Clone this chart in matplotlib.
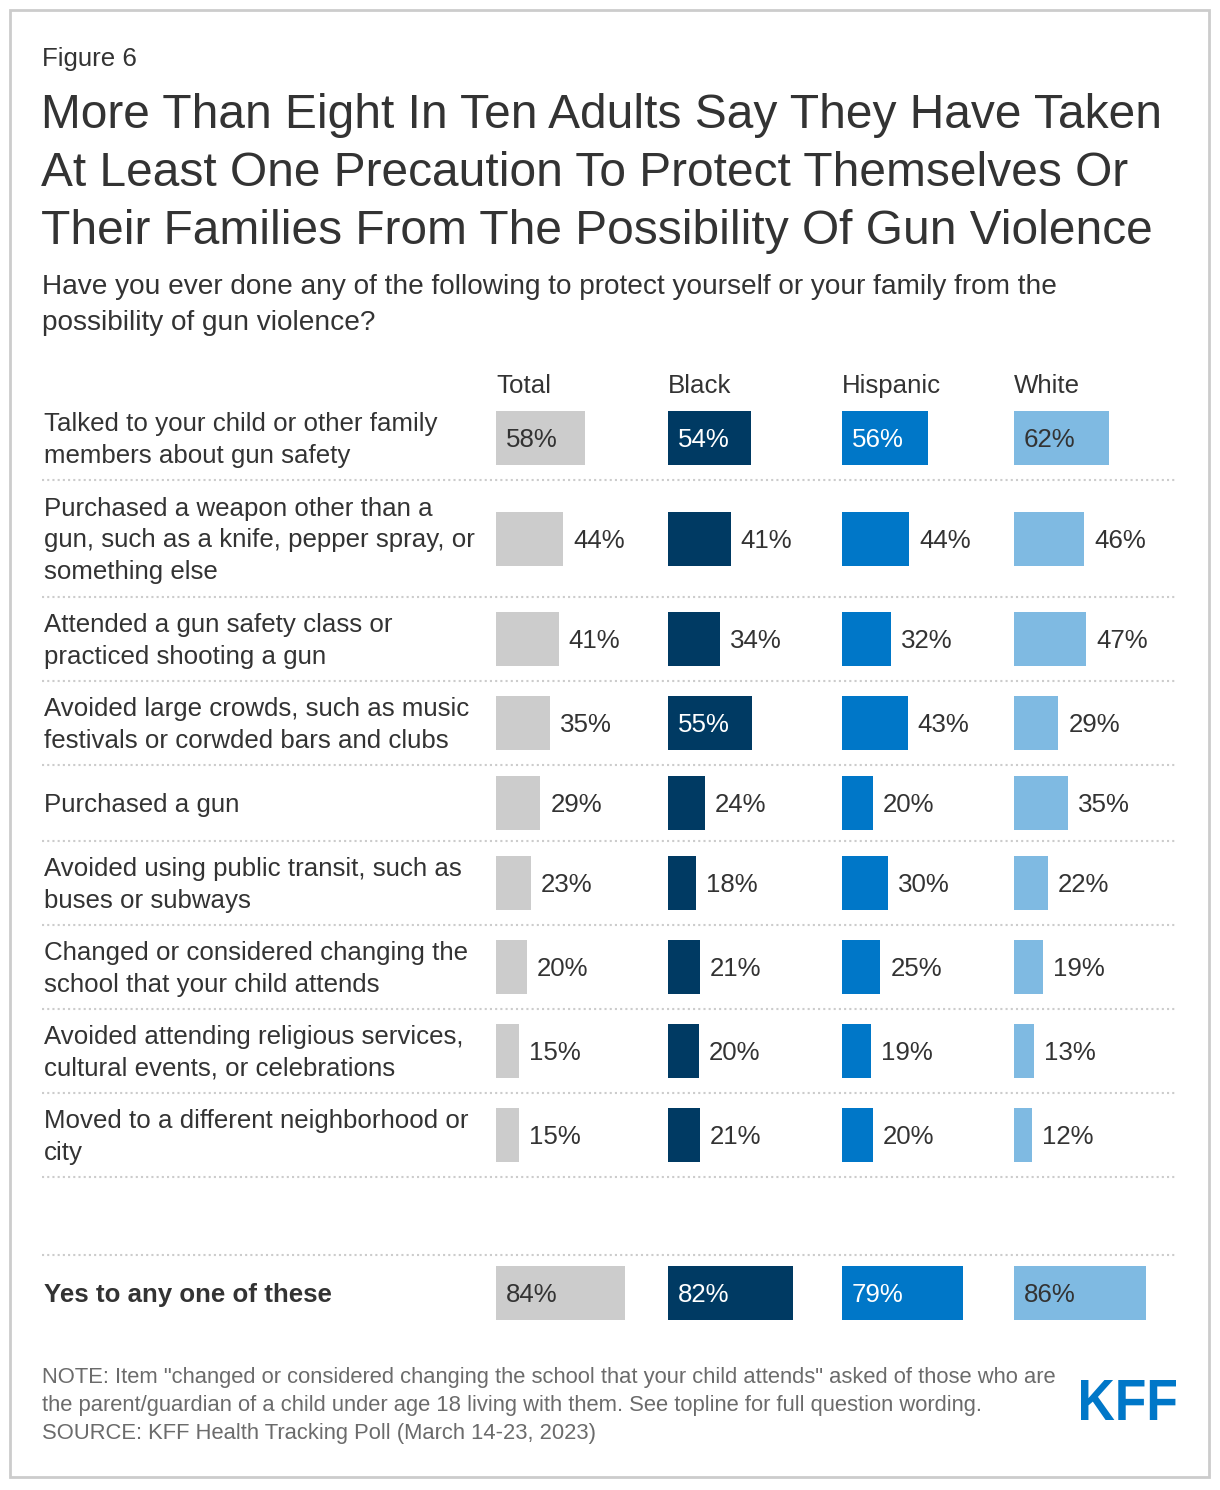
import matplotlib
matplotlib.use("Agg")
import matplotlib.pyplot as plt
from matplotlib.patches import Rectangle, PathPatch
from matplotlib.textpath import TextPath
from matplotlib.font_manager import FontProperties
from matplotlib.transforms import Affine2D

plt.rcParams['font.family'] = ['Liberation Sans', 'DejaVu Sans']

# data
groups = ["Total", "Black", "Hispanic", "White"]
colors = ["#cccccc", "#003a63", "#0077c8", "#7fbae2"]
text_in_colors = ["#333333", "#ffffff", "#ffffff", "#333333"]

items = [
    "Talked to your child or other family\nmembers about gun safety",
    "Purchased a weapon other than a\ngun, such as a knife, pepper spray, or\nsomething else",
    "Attended a gun safety class or\npracticed shooting a gun",
    "Avoided large crowds, such as music\nfestivals or corwded bars and clubs",
    "Purchased a gun",
    "Avoided using public transit, such as\nbuses or subways",
    "Changed or considered changing the\nschool that your child attends",
    "Avoided attending religious services,\ncultural events, or celebrations",
    "Moved to a different neighborhood or\ncity",
]
total = [58, 44, 41, 35, 29, 23, 20, 15, 15]
black = [54, 41, 34, 55, 24, 18, 21, 20, 21]
hispanic = [56, 44, 32, 43, 20, 30, 25, 19, 20]
white = [62, 46, 47, 29, 35, 22, 19, 13, 12]

any_label = "Yes to any one of these"
any_values = [84, 82, 79, 86]

title_lines = [
    "More Than Eight In Ten Adults Say They Have Taken",
    "At Least One Precaution To Protect Themselves Or",
    "Their Families From The Possibility Of Gun Violence",
]
subtitle_lines = [
    "Have you ever done any of the following to protect yourself or your family from the",
    "possibility of gun violence?",
]
note_lines = [
    'NOTE: Item "changed or considered changing the school that your child attends" asked of those who are',
    "the parent/guardian of a child under age 18 living with them. See topline for full question wording.",
    "SOURCE: KFF Health Tracking Poll (March 14-23, 2023)",
]

series = [total, black, hispanic, white]

# layout (pixels)
W, H = 1220, 1490
col_x = [496, 668, 842, 1014]
px_per_pct = 1.53
bar_h = 54
row_heights = {1: 76, 2: 84, 3: 117}
dark = "#333333"
fs = 18.6
dy = 2  # small nudge, matplotlib centres text a bit high

fig = plt.figure(figsize=(W / 100, H / 100), dpi=100)
ax = fig.add_axes([0, 0, 1, 1])
ax.set_xlim(0, W)
ax.set_ylim(H, 0)
ax.axis("off")

# border
ax.add_patch(Rectangle((10, 10), 1199, 1467, fill=False, ec="#cccccc", lw=2))

ax.text(42, 57 + dy, "Figure 6", fontsize=fs, color=dark, va="center")
for i, line in enumerate(title_lines):
    ax.text(41, 112 + 58 * i + 3, line, fontsize=34.5, color=dark, va="center")
for i, line in enumerate(subtitle_lines):
    ax.text(42, 285 + 36 * i + dy, line, fontsize=20.2, color=dark, va="center")

for x, g in zip(col_x, groups):
    ax.text(x, 384 + dy, g, fontsize=fs, color=dark, va="center")


def draw_row(yc, vals, label, bold=False):
    ax.text(44, yc + dy, label, fontsize=fs, color=dark, va="center", ha="left",
            linespacing=1.38, fontweight="bold" if bold else "normal")
    for k, v in enumerate(vals):
        ax.barh(yc, v * px_per_pct, left=col_x[k], height=bar_h,
                color=colors[k])
        if v >= 50:
            ax.text(col_x[k] + 10, yc + dy, f"{v}%", fontsize=fs,
                    color=text_in_colors[k], va="center")
        else:
            ax.text(col_x[k] + v * px_per_pct + 10, yc + dy, f"{v}%",
                    fontsize=fs, color=dark, va="center")


top = 396
for r, label in enumerate(items):
    h = row_heights[label.count("\n") + 1]
    yc = top + h / 2
    draw_row(yc, [s[r] for s in series], label)
    top += h
    ax.plot([42, 1176], [top, top], color="#cccccc", lw=1.5, ls=(0, (1, 1.5)))

ax.plot([42, 1176], [1255, 1255], color="#cccccc", lw=1.5, ls=(0, (1, 1.5)))
draw_row(1293, any_values, any_label, bold=True)

for i, line in enumerate(note_lines):
    ax.text(42, 1375 + 28.5 * i + dy, line, fontsize=15.8, color="#6b6b6b",
            va="center")

# KFF logo
tp = TextPath((0, 0), "KFF", size=100,
              prop=FontProperties(family="Liberation Sans", weight="bold"))
bb = tp.get_extents()
sx = 95 / bb.width
sy = 40 / bb.height
tr = Affine2D().translate(-bb.x0, -bb.y0).scale(sx, -sy).translate(1081, 1420)
ax.add_patch(PathPatch(tr.transform_path(tp), color="#0077c8", lw=0))

fig.savefig("out.png", dpi=100)
